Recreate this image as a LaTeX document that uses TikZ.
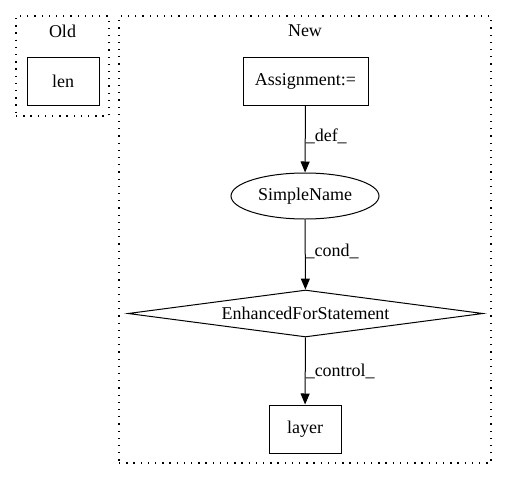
\documentclass[tikz,border=0pt]{standalone}
\usepackage{fontspec}
\setmainfont{Liberation Serif}
\usetikzlibrary{shapes.geometric,arrows.meta}
\begin{document}
\begin{tikzpicture}[x=1pt,y=-1pt,
  every node/.style={font=\fontsize{18}{20}\selectfont, inner sep=0pt},
  cluster/.style={draw, line width=1.3pt, dash pattern=on 1.3pt off 5.9pt},
  boxnode/.style={draw, rectangle, line width=1pt},
  ellnode/.style={draw, ellipse, line width=1pt},
  dianode/.style={draw, diamond, line width=1pt, aspect=7.5},
  edge/.style={draw, line width=1pt, -{Triangle[length=11pt,width=9pt]}},
  elabel/.style={right, inner sep=0pt}
]
\useasboundingbox (0,0) rectangle (507,480);
% clusters
\node[cluster, minimum width=93pt, minimum height=100pt] (old) at (62.5,66) {};
\node at (62.5,31) (oldlbl) {Old};
\node[cluster, minimum width=372pt, minimum height=447pt] (new) at (305,239.5) {};
\node at (305,31) (newlbl) {New};
% nodes
\node[boxnode, minimum width=72pt, minimum height=48pt] (len) at (63,81) {len};
\node[boxnode, minimum width=125pt, minimum height=48pt] (assign) at (305.5,81) {Assignment:=};
\node[ellnode, minimum width=148pt, minimum height=46pt] (simple) at (305,196) {SimpleName};
\node[dianode, minimum width=355pt, minimum height=47pt] (efs) at (305.5,313.5) {EnhancedForStatement};
\node[boxnode, minimum width=72pt, minimum height=48pt] (layer) at (305,429) {layer};
% edges
\draw[edge] (assign) -- node[elabel, pos=0.46] (l1) {\_def\_} (simple);
\draw[edge] (simple) -- node[elabel, pos=0.46] (l2) {\_cond\_} (efs);
\draw[edge] (efs) -- node[elabel, pos=0.5] (l3) {\_control\_} (layer);
\end{tikzpicture}
\end{document}
